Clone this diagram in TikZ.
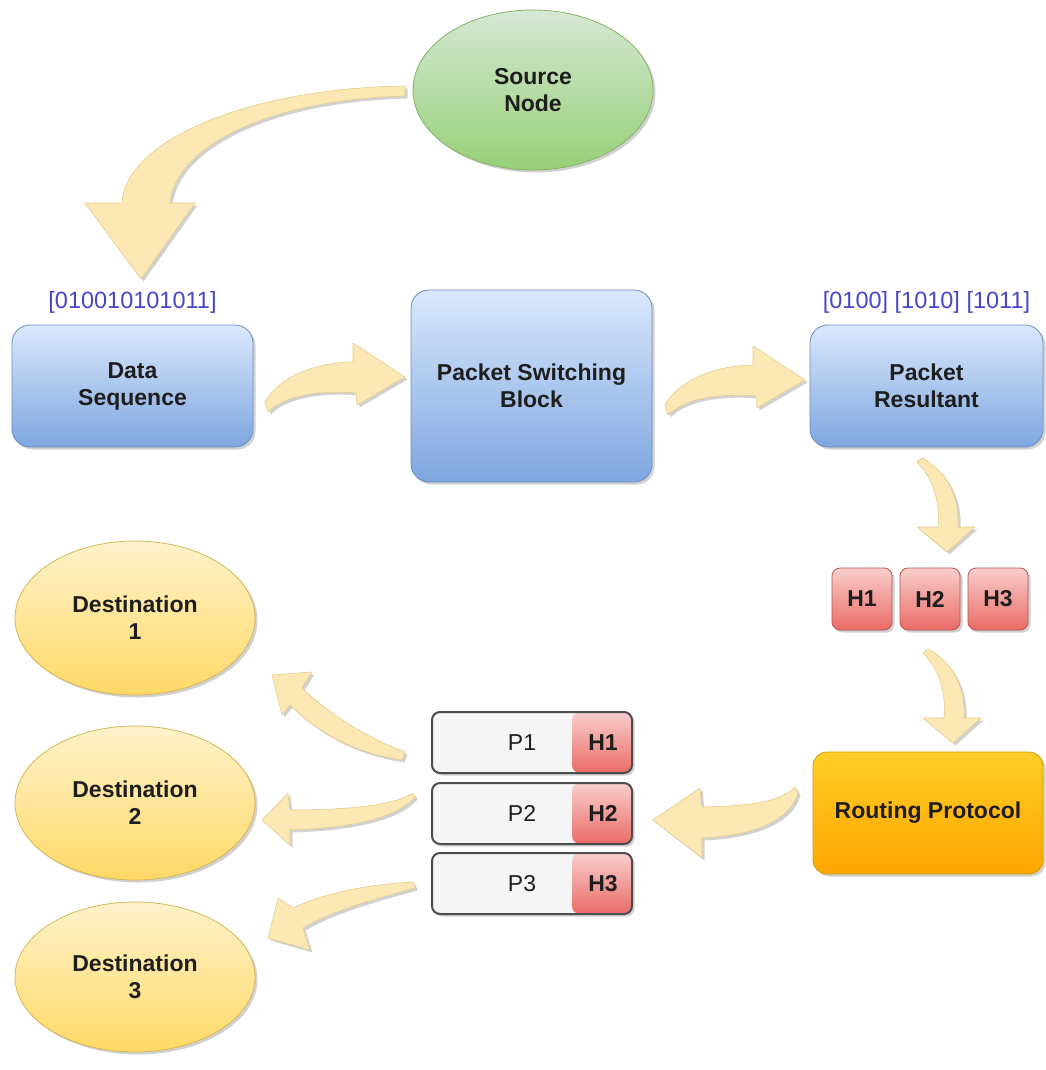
\documentclass[tikz,border=0pt]{standalone}
\usepackage{fontspec}
\setmainfont{Liberation Sans}
\usetikzlibrary{shapes.geometric,shadows,calc}

\definecolor{txt}{HTML}{1E1E1E}
\definecolor{bits}{HTML}{4646C8}
\definecolor{blueTop}{HTML}{DAE8FC}
\definecolor{blueBot}{HTML}{7EA6E0}
\definecolor{blueLine}{HTML}{6C8EBF}
\definecolor{greenTop}{HTML}{D5E8D4}
\definecolor{greenBot}{HTML}{97D077}
\definecolor{greenLine}{HTML}{82B366}
\definecolor{yelTop}{HTML}{FFF2CC}
\definecolor{yelBot}{HTML}{FFD966}
\definecolor{yelLine}{HTML}{D6B656}
\definecolor{redTop}{HTML}{F8CECC}
\definecolor{redBot}{HTML}{EA6B66}
\definecolor{redLine}{HTML}{B85450}
\definecolor{orTop}{HTML}{FFCD28}
\definecolor{orBot}{HTML}{FFA500}
\definecolor{orLine}{HTML}{D79B00}
\definecolor{pFill}{HTML}{F5F5F5}
\definecolor{pLine}{HTML}{4D4D4D}
\definecolor{arrFill}{HTML}{FBE8B4}
\definecolor{arrLine}{HTML}{E3CC8A}

\begin{document}
\begin{tikzpicture}[x=1pt,y=-1pt,
  dshadow/.style={drop shadow={shadow xshift=2.5pt,shadow yshift=-2.5pt,opacity=0.3,fill=black!60}},
  lbl/.style={font=\bfseries\fontsize{23}{27}\selectfont,text=txt,align=center},
  bluebox/.style={rectangle,rounded corners=18pt,draw=blueLine,line width=0.8pt,
    top color=blueTop,bottom color=blueBot,inner sep=0pt,dshadow,lbl},
  hbox/.style={rectangle,rounded corners=8pt,draw=redLine,line width=0.8pt,
    top color=redTop,bottom color=redBot,minimum width=60pt,minimum height=62pt,
    inner sep=0pt,dshadow,lbl},
  srcell/.style={ellipse,draw=greenLine,line width=0.8pt,top color=greenTop,
    bottom color=greenBot,minimum width=240pt,minimum height=160pt,inner sep=0pt,dshadow,lbl},
  destell/.style={ellipse,draw=yelLine,line width=0.8pt,top color=yelTop,
    bottom color=yelBot,minimum width=240pt,minimum height=154pt,inner sep=0pt,dshadow,lbl},
  routebox/.style={rectangle,rounded corners=14pt,draw=orLine,line width=0.8pt,
    top color=orTop,bottom color=orBot,minimum width=230pt,minimum height=122pt,
    inner sep=0pt,dshadow,lbl},
  pbox/.style={rectangle,rounded corners=8pt,draw=pLine,line width=2pt,fill=pFill,
    minimum width=200pt,minimum height=61pt,inner sep=0pt,dshadow,
    path picture={\shade[top color=redTop,bottom color=redBot]
      ([xshift=-60pt]path picture bounding box.north east)
      rectangle (path picture bounding box.south east);}},
  ptext/.style={font=\fontsize{23}{27}\selectfont,text=txt},
  bitstext/.style={font=\fontsize{23.5}{27}\selectfont,text=bits},
  fatarrow/.style={fill=arrFill,draw=arrLine,line width=0.6pt,line join=round,dshadow}
]
\useasboundingbox (0,0) rectangle (1045,1070);

% ---------- nodes ----------
\node[srcell] (src) at (533,90) {Source\\Node};

\node[bluebox,minimum width=241pt,minimum height=122pt] (data) at (132.5,386) {Data\\Sequence};
\node[bluebox,minimum width=241pt,minimum height=192pt] (psb) at (531.5,386) {Packet Switching\\Block};
\node[bluebox,minimum width=233pt,minimum height=122pt] (res) at (926.5,386) {Packet\\Resultant};

\node[bitstext,anchor=south] (bits) at ($(data.north)+(0,-8)$) {[010010101011]};
\node[bitstext,anchor=south] (bitsres) at ($(res.north)+(0,-8)$) {[0100] [1010] [1011]};

\node[hbox] (h1) at (862,599) {H1};
\node[hbox] (h2) at (930,599) {H2};
\node[hbox] (h3) at (998,599) {H3};

\node[routebox] (route) at (928,813) {Routing Protocol};

\foreach \i/\y in {1/742.5,2/813.5,3/883.5}{
  \node[pbox] (p\i) at (532,\y) {};
  \node[ptext] (pl\i) at ($(p\i.center)+(-10,0)$) {P\i};
  \node[lbl] (hp\i) at ($(p\i.east)+(-30,0)$) {H\i};
}

\node[destell] (d1) at (135,618) {Destination\\1};
\node[destell] (d2) at (135,803) {Destination\\2};
\node[destell,minimum height=150pt] (d3) at (135,977) {Destination\\3};

% ---------- curved block arrows ----------
% source node -> data sequence
\path[fatarrow] (405,86) .. controls (250,88) and (125,140) .. (122,203)
  -- (85,203) -- (141,279) -- (195,203) -- (170,203)
  .. controls (175,150) and (260,100) .. (405,96) -- cycle;

% data sequence -> packet switching block
\path[fatarrow] (265,402) .. controls (280,375) and (320,362) .. (353,362)
  -- (353,343) -- (405,377) -- (357,405) -- (356,393)
  .. controls (320,390) and (285,395) .. (268,412) -- cycle;

% packet switching block -> packet resultant
\path[fatarrow,shift={(400,3)}] (265,402) .. controls (280,375) and (320,362) .. (353,362)
  -- (353,343) -- (405,377) -- (357,405) -- (356,393)
  .. controls (320,390) and (285,395) .. (268,412) -- cycle;

% packet resultant -> headers
\path[fatarrow] (917,462) .. controls (935,480) and (940,505) .. (938,527)
  -- (917,527) -- (947,552) -- (975,527) -- (958,527)
  .. controls (960,495) and (945,470) .. (922,458) -- cycle;

% headers -> routing protocol
\path[fatarrow,shift={(6,191)}] (917,462) .. controls (935,480) and (940,505) .. (938,527)
  -- (917,527) -- (947,552) -- (975,527) -- (958,527)
  .. controls (960,495) and (945,470) .. (922,458) -- cycle;

% routing protocol -> packets
\path[fatarrow] (795,787) .. controls (780,803) and (745,806) .. (702,807)
  -- (700,788) -- (653,820) -- (702,858) -- (702,838)
  .. controls (765,835) and (792,815) .. (798,793) -- cycle;

% packet 1 -> destination 1
\path[fatarrow] (405,752) .. controls (360,735) and (325,710) .. (302,688)
  -- (312,672) -- (272,675) -- (282,715) -- (290,705)
  .. controls (315,730) and (350,752) .. (402,760) -- cycle;

% packet 2 -> destination 2
\path[fatarrow] (413,793) .. controls (395,805) and (350,810) .. (290,810)
  -- (288,793) -- (262,820) -- (290,845) -- (290,830)
  .. controls (360,828) and (400,815) .. (415,797) -- cycle;

% packet 3 -> destination 3
\path[fatarrow] (413,882) .. controls (360,885) and (320,895) .. (293,908)
  -- (278,898) -- (268,938) -- (310,950) -- (303,928)
  .. controls (330,912) and (370,900) .. (415,888) -- cycle;
\end{tikzpicture}
\end{document}
